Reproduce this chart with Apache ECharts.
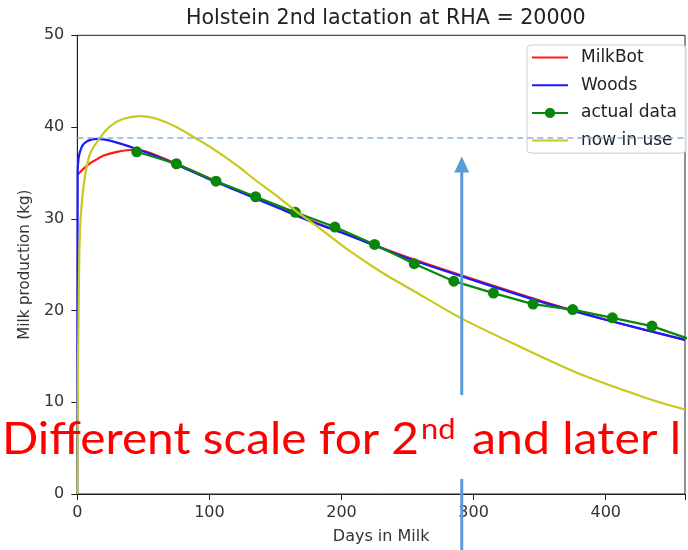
<!DOCTYPE html>
<html><head><meta charset="utf-8">
<script src="https://cdn.jsdelivr.net/npm/echarts@6/dist/echarts.min.js"></script>
<style>html,body{margin:0;padding:0;background:#fff}#c{width:688px;height:550px}</style>
</head><body><div id="c"></div>
<script>
// ---- data ----
const titleText = 'Holstein 2nd lactation at RHA = 20000';
const xTicks = [0, 100, 200, 300, 400];
const yTicks = [0, 10, 20, 30, 40, 50];

const milkbotDays = [0, 5, 10, 15, 20, 30, 40, 50, 60, 80, 100, 125, 150, 175, 200, 250, 300, 350, 400, 460];
const milkbotVals = [34.8, 35.5, 36.1, 36.5, 36.9, 37.3, 37.5, 37.4, 36.9, 35.7, 34.4, 32.9, 31.4, 29.9, 28.5, 25.8, 23.4, 21.1, 19.0, 16.8];

const woodsDays = [0, 0.3, 1, 2, 4, 7, 10, 15, 20, 30, 45, 60, 80, 100, 125, 150, 175, 200, 250, 300, 350, 400, 460];
const woodsVals = [0, 35.2, 36.6, 37.3, 38.0, 38.4, 38.6, 38.7, 38.65, 38.3, 37.6, 36.8, 35.6, 34.3, 32.8, 31.3, 29.8, 28.5, 25.7, 23.3, 21.0, 19.0, 16.8];

const actualDays = [45, 75, 105, 135, 165, 195, 225, 255, 285, 315, 345, 375, 405, 435, 465];
const actualVals = [37.3, 36.0, 34.1, 32.4, 30.7, 29.1, 27.2, 25.1, 23.2, 21.9, 20.7, 20.1, 19.2, 18.3, 16.8];

const nowDays = [0, 0.5, 1, 1.5, 2.5, 4.5, 7, 10, 17, 25, 35, 48, 60, 75, 87, 100, 120, 135, 150, 165, 185, 205, 230, 255, 290, 330, 380, 430, 460];
const nowVals = [0, 14, 20, 26, 30, 33.3, 35.6, 37.2, 38.8, 40.1, 40.9, 41.2, 40.9, 40.0, 39.0, 37.9, 35.9, 34.2, 32.6, 30.9, 28.8, 26.6, 24.2, 22.1, 19.2, 16.4, 13.1, 10.5, 9.2];

const refLevel = 38.8;          // dashed horizontal line
const arrowDay = 291;           // blue arrow position
const arrowTipVal = 36.8;
const noteMain = 'Different scale for 2';
const noteSup = 'nd';
const noteRest = 'and later l';

// ---- chart ----
const zip = (a, b) => a.map((d, i) => [d, b[i]]);
const chart = echarts.init(document.getElementById('c'), null, {renderer: 'canvas'});
const baseFont = 'DejaVu Sans';
const axisCol = '#222';
const hideSym = {opacity: 0};

chart.setOption({
  animation: false,
  backgroundColor: '#fff',
  title: {
    text: titleText, left: 181, top: 3,
    textStyle: {fontFamily: baseFont, fontSize: 20.6, fontWeight: 'normal', color: '#222'}
  },
  grid: {left: 77.3, top: 35.3, right: -2, bottom: 52.7, show: true, borderColor: axisCol, borderWidth: 1, backgroundColor: 'transparent'},
  legend: {
    orient: 'vertical', left: 527, top: 45,
    data: [
      {name: 'MilkBot', itemStyle: hideSym},
      {name: 'Woods', itemStyle: hideSym},
      {name: 'actual data'},
      {name: 'now in use', itemStyle: hideSym}
    ],
    itemWidth: 36, itemHeight: 13, itemGap: 10.7,
    padding: [4, 9, 4, 4],
    textStyle: {fontFamily: baseFont, fontSize: 17, color: '#222', lineHeight: 16, padding: [0, 0, 0, 8]},
    backgroundColor: 'rgba(255,255,255,0.85)', borderColor: '#cccccc', borderWidth: 1, borderRadius: 4
  },
  xAxis: {
    type: 'value', min: 0, max: 460, interval: 100,
    axisLine: {show: true, lineStyle: {color: axisCol}},
    axisTick: {show: true, length: 6, lineStyle: {color: axisCol}},
    axisLabel: {fontFamily: baseFont, fontSize: 16, color: '#333', margin: 11,
      formatter: v => xTicks.includes(v) ? String(v) : ''},
    splitLine: {show: false},
    name: 'Days in Milk', nameLocation: 'middle', nameGap: 35,
    nameTextStyle: {fontFamily: baseFont, fontSize: 16, color: '#333'}
  },
  yAxis: {
    type: 'value', min: 0, max: 50, interval: 10,
    axisLine: {show: true, lineStyle: {color: axisCol}},
    axisTick: {show: true, length: 6, lineStyle: {color: axisCol}},
    axisLabel: {fontFamily: baseFont, fontSize: 16, color: '#333', margin: 13,
      formatter: v => yTicks.includes(v) ? String(v) : ''},
    splitLine: {show: false},
    name: 'Milk production (kg)', nameLocation: 'middle', nameGap: 44,
    nameTextStyle: {fontFamily: baseFont, fontSize: 15, color: '#333'}
  },
  series: [
    {name: 'MilkBot', type: 'line', data: zip(milkbotDays, milkbotVals), showSymbol: false, symbol: 'none',
      smooth: 0.25,
      lineStyle: {color: '#ff1a1a', width: 2.2}, itemStyle: {color: '#ff1a1a'}, z: 2},
    {name: 'Woods', type: 'line', data: zip(woodsDays, woodsVals), showSymbol: false, symbol: 'none',
      smooth: 0.25,
      lineStyle: {color: '#1a1aff', width: 2.2}, itemStyle: {color: '#1a1aff'}, z: 3},
    {name: 'actual data', type: 'line', data: zip(actualDays, actualVals), symbol: 'circle', symbolSize: 11,
      lineStyle: {color: '#0a870a', width: 2.2}, itemStyle: {color: '#0a870a'}, z: 4},
    {name: 'now in use', type: 'line', data: zip(nowDays, nowVals), showSymbol: false, symbol: 'none',
      smooth: 0.25,
      lineStyle: {color: '#c8c81e', width: 2.2}, itemStyle: {color: '#c8c81e'}, z: 5},
    {name: 'ref', type: 'line', data: [[0, refLevel], [460, refLevel]], showSymbol: false, symbol: 'none',
      lineStyle: {color: '#86b3e0', width: 1.5, type: [6, 4]}, z: 10, silent: true}
  ]
});

// ---- slide annotations: arrow and red note ----
function measure(txt, font) {
  const c = document.createElement('canvas').getContext('2d');
  c.font = font; return c.measureText(txt).width;
}
const noteFam = 'Lato';
const bigSize = 45, supSize = 29;
const w1 = measure(noteMain, bigSize + 'px ' + noteFam);
const sx = 417 / w1;
const tip = chart.convertToPixel({gridIndex: 0}, [arrowDay, arrowTipVal]);
const ax = tip[0], ty = tip[1];
const arrowCol = '#5b9bd5';
const gapTop = 395, gapBottom = 479;

chart.setOption({
  graphic: [
    {type: 'line', shape: {x1: ax, y1: ty + 14, x2: ax, y2: gapTop}, style: {stroke: arrowCol, lineWidth: 3}, z: 20},
    {type: 'line', shape: {x1: ax, y1: gapBottom, x2: ax, y2: 552}, style: {stroke: arrowCol, lineWidth: 3}, z: 20},
    {type: 'polygon', shape: {points: [[ax, ty], [ax - 7.5, ty + 16], [ax + 7.5, ty + 16]]}, style: {fill: arrowCol}, z: 20},
    {type: 'text', x: 2, y: 439, scaleX: sx, z: 30,
      style: {text: noteMain, fontFamily: noteFam, fontSize: bigSize, fill: '#ff0000', verticalAlign: 'middle', align: 'left'}},
    {type: 'text', x: 421, y: 430, scaleX: sx, z: 30,
      style: {text: noteSup, fontFamily: noteFam, fontSize: supSize, fill: '#ff0000', verticalAlign: 'middle', align: 'left'}},
    {type: 'text', x: 472, y: 439, scaleX: sx * 1.01, z: 30,
      style: {text: noteRest, fontFamily: noteFam, fontSize: bigSize, fill: '#ff0000', verticalAlign: 'middle', align: 'left'}}
  ]
});
</script></body></html>
